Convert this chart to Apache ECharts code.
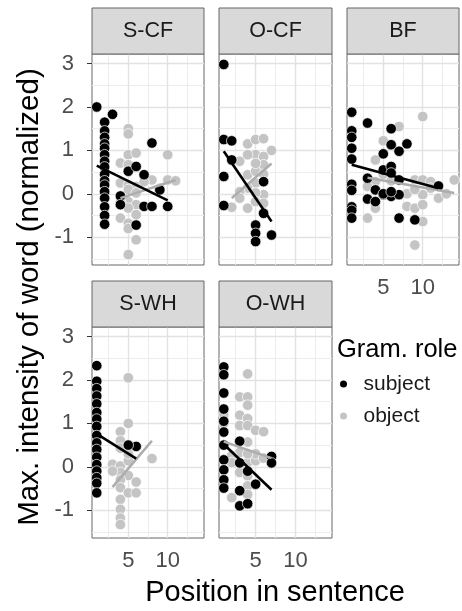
<!DOCTYPE html>
<html>
<head>
<meta charset="utf-8">
<script src="https://cdn.jsdelivr.net/npm/echarts@6/dist/echarts.min.js"></script>
<style>
  html, body { margin: 0; padding: 0; background: #fff; }
  #chart { width: 462px; height: 611px; }
</style>
</head>
<body>
<div id="chart"></div>
<script>
// Facet labels and legend entries
const facetNames = ['S-CF', 'O-CF', 'BF', 'S-WH', 'O-WH'];
const roleNames = ['subject', 'object'];

// Tick values
const positionTicks = [5, 10];
const intensityTicks = [-1, 0, 1, 2, 3];

// [position in sentence, max. intensity] per facet and grammatical role
const sCfSubject = [
  [1, 2.0], [3, 1.83],
  [2, 1.65], [2, 1.45], [2, 1.3], [2, 1.15], [2, 1.05], [2, 0.9], [2, 0.75], [2, 0.62],
  [2, 0.45], [2, 0.3], [2, 0.2], [2, 0.05], [2, -0.1], [2, -0.3], [2, -0.5], [2, -0.7],
  [4, -0.05], [4, -0.25], [5, 0.52], [6, 0.63], [6, -0.72], [7, 0.44], [7, -0.29],
  [8, 1.17], [8, -0.29], [9, 0.09], [10, -0.29]
];
const sCfObject = [
  [5, 1.5], [5, 1.38], [4, 0.71], [5, 0.9], [6, 0.94], [10, 0.9], [5, 0.67], [4, 0.25],
  [5, 0.2], [6, 0.17], [8, 0.32], [10, 0.32], [11, 0.3], [9, 0.13], [5, 0.1], [6, 0.02],
  [5, -0.18], [6, -0.25], [5, -0.33], [4, -0.56], [6, -0.48], [5, -0.68], [5, -0.8],
  [6, -1.06], [5, -1.4], [7, 0.28], [4, -0.18]
];
const oCfSubject = [
  [1, 2.98], [1, 1.25], [2, 1.22], [2, 0.78], [1, 0.4], [1, -0.27], [6, 0.28], [6, -0.45],
  [5, -0.72], [5, -0.91], [5, -1.1], [7, -0.95]
];
const oCfObject = [
  [4, 1.15], [5, 1.25], [6, 1.27], [7, 1.0], [5, 0.9], [6, 0.86], [3, 0.75], [4, 0.44],
  [5, 0.52], [6, 0.67], [5, 0.25], [4, 0.13], [3, 0.05], [6, -0.02], [5, 0.02], [2, -0.31],
  [4, -0.33], [5, -0.18], [6, -0.22], [3, -0.1], [6, 0.45], [4, 0.9], [5, 0.7]
];
const bfSubject = [
  [1, 1.88], [1, 1.45], [1, 1.3], [1, 1.05], [1, 0.8], [1, 0.22], [1, 0.08], [1, -0.3],
  [1, -0.38], [1, -0.56],
  [3, 1.63], [6, 1.5], [8, 1.15], [6, 1.13], [7, 0.98], [5, 0.92], [5, 0.55], [6, 0.63],
  [6, 0.48], [3, 0.36], [7, 0.32], [4, 0.09], [5, -0.02], [6, -0.06], [7, -0.02],
  [3, -0.12], [4, -0.18], [12, 0.18], [7, -0.56], [9, -0.6], [5, 0.0], [6, 0.05]
];
const bfObject = [
  [10, 1.78], [7, 1.55], [5, 1.22], [4, 0.78], [4, 0.28], [3, 0.17], [9, 0.32], [10, 0.32],
  [11, 0.28], [14, 0.32], [10, -0.02], [11, 0.13], [12, -0.1], [8, -0.29], [9, -0.33],
  [10, -0.25], [3, -0.56], [4, -0.33], [10, -0.64], [9, -1.18], [5, 0.45], [8, 0.0],
  [9, 0.1], [13, 0.0], [6, 0.3]
];
const sWhSubject = [
  [1, 2.33], [1, 1.97], [1, 1.8], [1, 1.63], [1, 1.45], [1, 1.25], [1, 1.1], [1, 0.93],
  [1, 0.72], [1, 0.55], [1, 0.4], [1, 0.22], [1, 0.05], [1, -0.1], [1, -0.25], [1, -0.38],
  [1, -0.6], [6, 0.47], [5, 0.5]
];
const sWhObject = [
  [5, 2.05], [5, 1.0], [4, 0.81], [4, 0.6], [5, 0.5], [4, 0.43], [8, 0.19], [3, 0.06],
  [4, 0.02], [5, 0.14], [4, -0.13], [5, -0.2], [4, -0.3], [6, -0.35], [4, -0.48], [5, -0.6],
  [6, -0.6], [4, -0.75], [4, -0.98], [4, -1.18], [4, -1.33], [5, 0.3], [3, -0.1]
];
const oWhSubject = [
  [1, 2.3], [1, 2.12], [1, 1.7], [1, 1.33], [1, 1.05], [1, 0.8], [1, 0.5], [1, 0.16],
  [1, -0.07], [1, -0.3], [1, -0.49],
  [3, 0.59], [3, 0.09], [3, -0.55], [3, -0.9], [4, -0.85], [7, 0.24], [7, 0.09], [5, -0.4],
  [4, -0.1]
];
const oWhObject = [
  [4, 2.14], [3, 1.61], [4, 1.61], [4, 1.42], [3, 1.19], [4, 1.11], [3, 0.95], [4, 0.95],
  [5, 0.84], [6, 0.81], [4, 0.57], [3, 0.33], [4, 0.1], [5, 0.14], [3, -0.13], [4, -0.21],
  [4, -0.44], [2, -0.71], [4, -0.64], [2, 0.26], [2, 0.1], [1, 1.2], [1, 1.0], [5, 0.3],
  [4, 0.3], [6, 0.2]
];

// Linear fit end points per facet and role
const sCfSubjectFit = [[1, 0.65], [10, -0.15]];
const sCfObjectFit = [[4, -0.1], [11, 0.32]];
const oCfSubjectFit = [[1, 0.98], [7, -0.64]];
const oCfObjectFit = [[2, -0.1], [7, 0.7]];
const bfSubjectFit = [[1, 0.67], [12, 0.13]];
const bfObjectFit = [[3, 0.37], [14, 0.02]];
const sWhSubjectFit = [[1, 0.76], [6, 0.19]];
const sWhObjectFit = [[3, -0.47], [8, 0.6]];
const oWhSubjectFit = [[1, 0.52], [7, -0.53]];
const oWhObjectFit = [[1, 0.58], [7, 0.2]];

const facets = [
  { subject: sCfSubject, object: sCfObject, subjectFit: sCfSubjectFit, objectFit: sCfObjectFit },
  { subject: oCfSubject, object: oCfObject, subjectFit: oCfSubjectFit, objectFit: oCfObjectFit },
  { subject: bfSubject, object: bfObject, subjectFit: bfSubjectFit, objectFit: bfObjectFit },
  { subject: sWhSubject, object: sWhObject, subjectFit: sWhSubjectFit, objectFit: sWhObjectFit },
  { subject: oWhSubject, object: oWhObject, subjectFit: oWhSubjectFit, objectFit: oWhObjectFit }
];

// Panel placement and which axes carry labels
const panelBoxes = [
  { left: 92, top: 54, width: 112, height: 211, showY: true, showX: false },
  { left: 219, top: 54, width: 113, height: 211, showY: false, showX: false },
  { left: 347, top: 54, width: 112, height: 211, showY: false, showX: true },
  { left: 92, top: 327, width: 112, height: 211, showY: true, showX: true },
  { left: 219, top: 327, width: 113, height: 211, showY: false, showX: true }
];
const STRIP_H = 46;
const X_RANGE = [0.4, 14.6];
const Y_RANGE = [-1.64, 3.22];

const FONT = 'Liberation Sans, Arial, Helvetica, sans-serif';
const BLACK = '#000000';
const GREY = '#c4c4c4';
const GREY_LINE = '#adadad';
const BORDER = '#666666';
const GRID_MAJOR = '#e2e2e2';
const GRID_MINOR = '#ececec';
const POINT_SIZE = 10.5;

const grids = [], xAxes = [], yAxes = [], series = [], graphics = [];

// Light major/minor guide lines for one panel
function guideLines() {
  const items = [];
  [-1.5, -0.5, 0.5, 1.5, 2.5].forEach(v => items.push({ yAxis: v, lineStyle: { color: GRID_MINOR, width: 1, type: 'solid' } }));
  [2.5, 7.5, 12.5].forEach(v => items.push({ xAxis: v, lineStyle: { color: GRID_MINOR, width: 1, type: 'solid' } }));
  intensityTicks.forEach(v => items.push({ yAxis: v, lineStyle: { color: GRID_MAJOR, width: 1.4, type: 'solid' } }));
  positionTicks.forEach(v => items.push({ xAxis: v, lineStyle: { color: GRID_MAJOR, width: 1.4, type: 'solid' } }));
  return items;
}

panelBoxes.forEach((b, i) => {
  grids.push({
    left: b.left, top: b.top, width: b.width, height: b.height,
    show: true, borderColor: BORDER, borderWidth: 1, backgroundColor: '#fff'
  });
  xAxes.push({
    gridIndex: i, type: 'value', min: X_RANGE[0], max: X_RANGE[1],
    axisLine: { show: false }, splitLine: { show: false },
    axisTick: { show: b.showX, customValues: positionTicks, length: 5, lineStyle: { color: '#333', width: 1 } },
    axisLabel: { show: b.showX, customValues: positionTicks, color: '#4d4d4d', fontSize: 22, fontFamily: FONT, margin: 12 }
  });
  yAxes.push({
    gridIndex: i, type: 'value', min: Y_RANGE[0], max: Y_RANGE[1],
    axisLine: { show: false }, splitLine: { show: false },
    axisTick: { show: b.showY, customValues: intensityTicks, length: 5, lineStyle: { color: '#333', width: 1 } },
    axisLabel: { show: b.showY, customValues: intensityTicks, color: '#4d4d4d', fontSize: 22, fontFamily: FONT, margin: 18 }
  });

  const f = facets[i];
  series.push({
    type: 'line', xAxisIndex: i, yAxisIndex: i, data: [], silent: true,
    markLine: { silent: true, z: 1, symbol: ['none', 'none'], label: { show: false }, animation: false, data: guideLines() }
  });
  series.push({
    type: 'scatter', name: 'object', xAxisIndex: i, yAxisIndex: i, data: f.object,
    symbolSize: POINT_SIZE, z: 2, silent: true,
    itemStyle: { color: GREY, borderColor: '#fff', borderWidth: 0.7, opacity: 1 }
  });
  series.push({
    type: 'scatter', name: 'subject', xAxisIndex: i, yAxisIndex: i, data: f.subject,
    symbolSize: POINT_SIZE, z: 3, silent: true,
    itemStyle: { color: BLACK, borderColor: '#fff', borderWidth: 0.7, opacity: 1 }
  });
  series.push({
    type: 'line', name: 'object fit', xAxisIndex: i, yAxisIndex: i, data: f.objectFit,
    symbol: 'none', z: 4, silent: true, lineStyle: { color: GREY_LINE, width: 2.6 }
  });
  series.push({
    type: 'line', name: 'subject fit', xAxisIndex: i, yAxisIndex: i, data: f.subjectFit,
    symbol: 'none', z: 5, silent: true, lineStyle: { color: BLACK, width: 2.6 }
  });

  // facet strip
  graphics.push({
    type: 'rect', z: 10,
    shape: { x: b.left, y: b.top - STRIP_H, width: b.width, height: STRIP_H },
    style: { fill: '#d9d9d9', stroke: BORDER, lineWidth: 1 }
  });
  graphics.push({
    type: 'text', z: 11, x: b.left + b.width / 2, y: b.top - STRIP_H / 2,
    style: { text: facetNames[i], fontSize: 21.5, fontFamily: FONT, fill: '#1a1a1a', align: 'center', verticalAlign: 'middle' }
  });
});

graphics.push({
  type: 'text', x: 30, y: 297, rotation: Math.PI / 2,
  style: { text: 'Max. intensity of word (normalized)', fontSize: 29.5, fontFamily: FONT, fill: '#000', align: 'center', verticalAlign: 'middle' }
});
graphics.push({
  type: 'text', x: 275, y: 593,
  style: { text: 'Position in sentence', fontSize: 29, fontFamily: FONT, fill: '#000', align: 'center', verticalAlign: 'middle' }
});
graphics.push({
  type: 'text', x: 337, y: 350,
  style: { text: 'Gram. role', fontSize: 25.5, fontFamily: FONT, fill: '#000', align: 'left', verticalAlign: 'middle' }
});

const chart = echarts.init(document.getElementById('chart'), null, { renderer: 'canvas' });
chart.setOption({
  animation: false,
  backgroundColor: '#fff',
  grid: grids,
  xAxis: xAxes,
  yAxis: yAxes,
  legend: {
    data: roleNames, orient: 'vertical', left: 340, top: 372, padding: 0,
    itemWidth: 30, itemHeight: 7, itemGap: 8, icon: 'circle', selectedMode: false,
    itemStyle: { borderWidth: 0 },
    textStyle: { fontSize: 21, fontFamily: FONT, color: '#1a1a1a', lineHeight: 24 }
  },
  graphic: graphics,
  series: series
});
</script>
</body>
</html>
